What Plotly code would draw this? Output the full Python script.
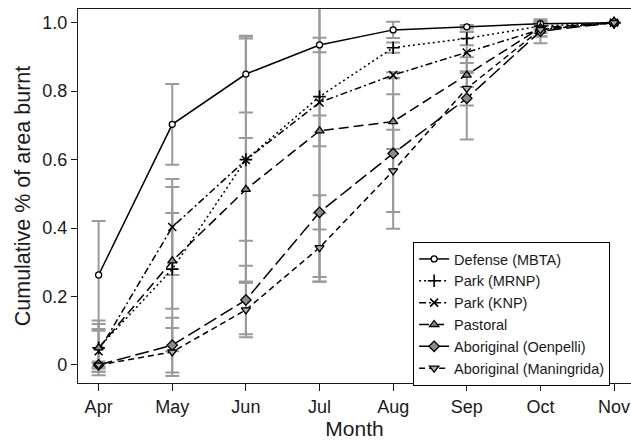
import plotly.graph_objects as go

months = ["Apr", "May", "Jun", "Jul", "Aug", "Sep", "Oct", "Nov"]
y_tick_vals = [0, 0.2, 0.4, 0.6, 0.8, 1.0]
y_tick_text = ["0", "0.2", "0.4", "0.6", "0.8", "1.0"]

defense = [0.263, 0.703, 0.850, 0.935, 0.979, 0.988, 0.997, 1.0]
defense_err = [0.158, 0.118, 0.112, 0.021, 0.024, 0.005, 0.008, 0.0]

park_mrnp = [0.05, 0.28, 0.60, 0.784, 0.927, 0.954, 0.990, 1.0]
park_mrnp_err = [0.07, 0.24, 0.36, 0.54, 0.015, 0.02, 0.01, 0.0]

park_knp = [0.04, 0.403, 0.599, 0.767, 0.847, 0.913, 0.980, 1.0]
park_knp_err = [0.06, 0.14, 0.355, 0.51, 0.008, 0.06, 0.02, 0.0]

pastoral = [0.05, 0.304, 0.513, 0.684, 0.711, 0.847, 0.985, 1.0]
pastoral_err = [0.08, 0.14, 0.15, 0.045, 0.08, 0.035, 0.015, 0.0]

oenpelli = [0.0, 0.058, 0.190, 0.446, 0.618, 0.779, 0.975, 1.0]
oenpelli_err = [0.01, 0.08, 0.10, 0.05, 0.22, 0.12, 0.035, 0.0]

maningrida = [0.0, 0.038, 0.161, 0.343, 0.567, 0.808, 0.980, 1.0]
maningrida_err = [0.005, 0.07, 0.08, 0.10, 0.12, 0.05, 0.02, 0.0]

series = [
    ("Defense (MBTA)", defense, defense_err, "solid",
     dict(symbol="circle", size=6, color="white", line=dict(color="black", width=1.3))),
    ("Park (MRNP)", park_mrnp, park_mrnp_err, "2px,3px",
     dict(symbol="cross-thin-open", size=9, color="black", line=dict(color="black", width=1.6))),
    ("Park (KNP)", park_knp, park_knp_err, "7px,3px,2px,3px",
     dict(symbol="x-thin-open", size=8, color="black", line=dict(color="black", width=1.6))),
    ("Pastoral", pastoral, pastoral_err, "10px,5px",
     dict(symbol="triangle-up", size=8, color="#8a8a8a", line=dict(color="black", width=1.3))),
    ("Aboriginal (Oenpelli)", oenpelli, oenpelli_err, "14px,5px",
     dict(symbol="diamond", size=8, color="#8a8a8a", line=dict(color="black", width=1.3))),
    ("Aboriginal (Maningrida)", maningrida, maningrida_err, "6px,4px",
     dict(symbol="triangle-down", size=8, color="#b0b0b0", line=dict(color="black", width=1.3))),
]

x_idx = list(range(len(months)))
fig = go.Figure()

# error bars first (behind lines)
for name, vals, errs, dash, mk in series:
    fig.add_trace(go.Scatter(
        x=x_idx, y=vals, mode="markers",
        marker=dict(size=1, opacity=0),
        error_y=dict(type="data", array=errs, visible=True,
                     color="#9a9a9a", thickness=2, width=7),
        showlegend=False, hoverinfo="skip",
    ))

for name, vals, errs, dash, mk in series:
    fig.add_trace(go.Scatter(
        x=x_idx, y=vals, mode="lines+markers", name=name,
        line=dict(color="black", width=1.5, dash=dash),
        marker=mk,
    ))

font_family = "Liberation Sans, Arial, sans-serif"

fig.update_layout(
    width=631, height=441,
    margin=dict(l=78, r=0, t=9, b=58, autoexpand=False),
    paper_bgcolor="white", plot_bgcolor="white",
    font=dict(family=font_family, color="#1a1a1a"),
    showlegend=True,
    legend=dict(
        x=0.606, y=0.377, xanchor="left", yanchor="top",
        bgcolor="white", bordercolor="black", borderwidth=1,
        font=dict(size=14.5, family=font_family, color="#1a1a1a"),
        tracegroupgap=0, itemwidth=30,
    ),
    xaxis=dict(
        range=[-0.28, 7.23], automargin=False,
        tickvals=x_idx, ticktext=months,
        ticks="outside", ticklen=7, tickcolor="#1a1a1a",
        showline=True, linecolor="#1a1a1a", linewidth=1.2, mirror=True,
        showgrid=False, zeroline=False,
        tickfont=dict(size=18),
        title=dict(text="Month", font=dict(size=21), standoff=4),
    ),
    yaxis=dict(
        range=[-0.0526, 1.040], automargin=False,
        tickvals=y_tick_vals, ticktext=y_tick_text,
        ticks="outside", ticklen=6, tickcolor="#1a1a1a",
        showline=True, linecolor="#1a1a1a", linewidth=1.2, mirror=False,
        showgrid=False, zeroline=False,
        tickfont=dict(size=18),
        title=dict(text="Cumulative % of area burnt", font=dict(size=21.5), standoff=5),
    ),
)

fig.write_html("out.html", post_script="document.body.style.margin='0';",
               config={"displayModeBar": False})
